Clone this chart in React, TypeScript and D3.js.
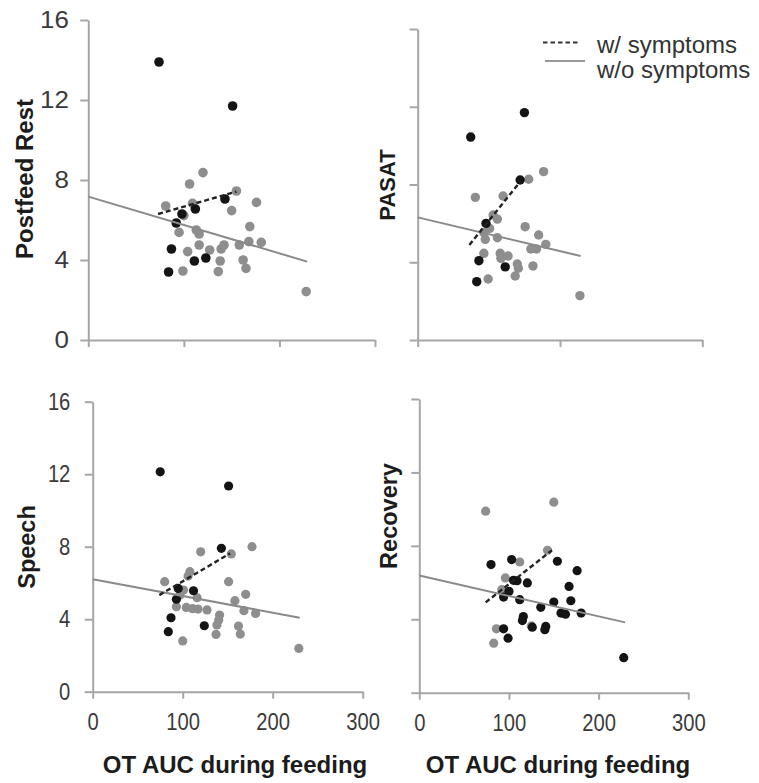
import { useEffect, useRef } from 'react';
import * as d3 from 'd3';

// values: [OT AUC, score]
const postfeedBlack = [[74, 13.9], [151, 11.7], [143, 7.05], [112, 6.55], [98, 6.3], [92, 5.85], [87, 4.55], [84, 3.4], [111, 3.95], [123, 4.1]];
const postfeedGray = [[120, 8.37], [106, 7.8], [155, 7.45], [81, 6.7], [109, 6.83], [176, 6.88], [150, 6.47], [100, 6.22], [95, 5.38], [113, 5.5], [116, 5.3], [169, 5.67], [116, 4.75], [104, 4.42], [127, 4.5], [139, 4.55], [142, 4.75], [158, 4.75], [168, 4.92], [181, 4.88], [138, 3.95], [162, 4.0], [165, 3.58], [99, 3.45], [136, 3.42], [228, 2.42]];
const postfeedSolid = [[0, 7.17], [229, 3.92]];
const postfeedDashed = [[73, 6.3], [155, 7.42]];

const pasatBlack = [[74.5, 10.44], [150, 11.7], [144, 8.23], [96, 6.0], [86, 4.08], [123, 3.76], [83, 3.0]];
const pasatGray = [[177, 8.66], [156, 8.27], [81, 7.34], [120, 7.41], [106, 6.43], [112, 6.22], [101, 5.74], [93, 5.52], [95, 5.18], [112, 5.26], [151, 5.83], [170, 5.4], [180, 4.92], [159, 4.68], [167, 4.68], [93, 4.46], [116, 4.46], [117, 4.2], [127, 4.32], [140, 3.91], [141.5, 3.69], [137, 3.29], [162, 3.81], [99, 3.14], [228, 2.28]];
const pasatSolid = [[0, 6.31], [229, 4.32]];
const pasatDashed = [[72.6, 4.89], [144, 8.14]];

const speechBlack = [[75, 12.13], [151, 11.35], [143, 7.91], [112, 5.57], [93, 5.1], [95, 5.7], [87, 4.08], [84, 3.31], [124, 3.64]];
const speechGray = [[177, 8.0], [120, 7.72], [154, 7.6], [108, 6.62], [106, 6.38], [80, 6.07], [151, 6.07], [101, 5.61], [97, 5.33], [116, 5.19], [170, 5.37], [158, 5.02], [93, 4.69], [104, 4.65], [111, 4.58], [117, 4.56], [127, 4.51], [168, 4.47], [181, 4.32], [141, 4.23], [140, 3.95], [138, 3.68], [162, 3.62], [137, 3.16], [164, 3.18], [100, 2.8], [229, 2.39]];
const speechSolid = [[0, 6.2], [230, 4.08]];
const speechDashed = [[74, 5.33], [152.6, 7.63]];

const recoveryGray = [[74, 9.89], [150, 10.38], [143, 7.76], [112, 7.12], [96, 6.25], [92, 5.61], [86, 3.48], [83, 2.7], [125, 3.64]];
const recoveryBlack = [[80, 6.98], [103, 7.25], [154, 7.16], [176, 6.65], [105, 6.12], [109, 6.1], [120.5, 5.98], [167, 5.79], [100, 5.52], [94, 5.21], [112, 5.07], [169, 5.01], [150, 4.94], [135.5, 4.65], [158, 4.34], [163, 4.28], [180.5, 4.34], [116, 4.15], [115, 3.93], [126, 3.57], [141, 3.61], [140, 3.43], [94, 3.48], [99, 2.97], [228, 1.91]];
const recoverySolid = [[0, 6.38], [229.6, 3.83]];
const recoveryDashed = [[74, 4.92], [148, 7.76]];

const yTicks = [0, 4, 8, 12, 16];
const xTicks = [0, 100, 200, 300];
const xTicksPasat = [0, 200, 400];
const xTitle = 'OT AUC during feeding';
const legendLabels = ['w/ symptoms', 'w/o symptoms'];

const panels = [
  { title: 'Postfeed Rest', gray: postfeedGray, black: postfeedBlack, solid: postfeedSolid, dashed: postfeedDashed,
    xDomain: [0, 300], xt: xTicks, xr: [88.3, 375], yr: [340, 20], yLabels: true, xLabels: false,
    lab: { x: 33, y: 179, size: 24 }, r: 4.8, tickFs: 24, sx: 1.08, yPad: 10 },
  { title: 'PASAT', gray: pasatGray, black: pasatBlack, solid: pasatSolid, dashed: pasatDashed,
    xDomain: [0, 400], xt: xTicksPasat, xr: [417.7, 702.3], yr: [340, 29], yLabels: false, xLabels: false,
    lab: { x: 395, y: 185, size: 22 }, r: 4.7, tickFs: 24, sx: 1, yPad: 10 },
  { title: 'Speech', gray: speechGray, black: speechBlack, solid: speechSolid, dashed: speechDashed,
    xDomain: [0, 300], xt: xTicks, xr: [92.7, 362.7], yr: [691.7, 401.7], yLabels: true, xLabels: true,
    lab: { x: 35, y: 547, size: 23.5 }, r: 4.6, tickFs: 23.5, sx: 0.86, yPad: 18,
    xlab: { x: 235, y: 773 } },
  { title: 'Recovery', gray: recoveryGray, black: recoveryBlack, solid: recoverySolid, dashed: recoveryDashed,
    xDomain: [0, 300], xt: xTicks, xr: [419.3, 688.3], yr: [692.7, 399], yLabels: false, xLabels: true,
    lab: { x: 397, y: 516, size: 23.5 }, r: 4.6, tickFs: 23.5, sx: 0.86, yPad: 18,
    xlab: { x: 558, y: 773 } },
];

const AXIS = '#a6a6a6';
const GRAY = '#8e8e8e';
const BLACK = '#141414';
const FONT = '"Liberation Sans", Arial, Helvetica, sans-serif';

export default function App() {
  const svgRef = useRef(null);

  useEffect(() => {
    const svg = d3.select(svgRef.current);
    svg.selectAll('*').remove();

    panels.forEach((p) => {
      const x = d3.scaleLinear().domain(p.xDomain).range(p.xr);
      const y = d3.scaleLinear().domain([0, 16]).range(p.yr);
      const g = svg.append('g');

      // y axis
      const ya = g.append('g')
        .attr('transform', `translate(${p.xr[0]},0)`)
        .call(d3.axisLeft(y).tickValues(yTicks).tickSize(8).tickSizeOuter(0).tickPadding(p.yPad)
          .tickFormat(p.yLabels ? d3.format('d') : () => ''));
      // x axis
      const xa = g.append('g')
        .attr('transform', `translate(0,${p.yr[0]})`)
        .call(d3.axisBottom(x).tickValues(p.xt).tickSize(7).tickSizeOuter(0).tickPadding(15)
          .tickFormat(p.xLabels ? d3.format('d') : () => ''));

      [ya, xa].forEach((a) => {
        a.selectAll('path, line').attr('stroke', AXIS).attr('stroke-width', 2);
        a.selectAll('text')
          .attr('fill', '#3a3a3a')
          .style('font-family', FONT)
          .style('font-size', `${p.tickFs}px`)
          .attr('transform', `scale(${p.sx},1)`);
      });

      // points
      g.append('g').selectAll('circle').data(p.gray).join('circle')
        .attr('cx', (d) => x(d[0])).attr('cy', (d) => y(d[1])).attr('r', p.r).attr('fill', GRAY);
      g.append('g').selectAll('circle').data(p.black).join('circle')
        .attr('cx', (d) => x(d[0])).attr('cy', (d) => y(d[1])).attr('r', p.r).attr('fill', BLACK);

      // fit lines
      const line = d3.line().x((d) => x(d[0])).y((d) => y(d[1]));
      g.append('path').attr('d', line(p.solid)).attr('stroke', '#8a8a8a').attr('stroke-width', 2).attr('fill', 'none');
      g.append('path').attr('d', line(p.dashed)).attr('stroke', '#222').attr('stroke-width', 2.4)
        .attr('stroke-dasharray', '5,3').attr('fill', 'none');

      // titles
      g.append('text')
        .attr('transform', `translate(${p.lab.x},${p.lab.y}) rotate(-90)`)
        .attr('text-anchor', 'middle')
        .style('font-family', FONT).style('font-weight', 'bold').style('font-size', `${p.lab.size}px`)
        .attr('fill', '#1c1c1c')
        .text(p.title);
      if (p.xlab) {
        g.append('text')
          .attr('x', p.xlab.x).attr('y', p.xlab.y)
          .attr('text-anchor', 'middle')
          .style('font-family', FONT).style('font-weight', 'bold').style('font-size', '24px')
          .attr('fill', '#1c1c1c')
          .text(xTitle);
      }
    });

    // legend
    const lg = svg.append('g');
    lg.append('line').attr('x1', 543).attr('x2', 580).attr('y1', 42.5).attr('y2', 42.5)
      .attr('stroke', '#333').attr('stroke-width', 2).attr('stroke-dasharray', '4.5,3');
    lg.append('line').attr('x1', 545).attr('x2', 585).attr('y1', 61).attr('y2', 61)
      .attr('stroke', '#999').attr('stroke-width', 2);
    legendLabels.forEach((t, i) => {
      lg.append('text').attr('x', 597).attr('y', 52.5 + i * 25)
        .style('font-family', FONT).style('font-size', '24px').attr('fill', '#333')
        .text(t);
    });
  }, []);

  return (
    <svg
      ref={svgRef}
      width={759}
      height={783}
      style={{ position: 'absolute', left: 0, top: 0, background: '#fff' }}
    />
  );
}
